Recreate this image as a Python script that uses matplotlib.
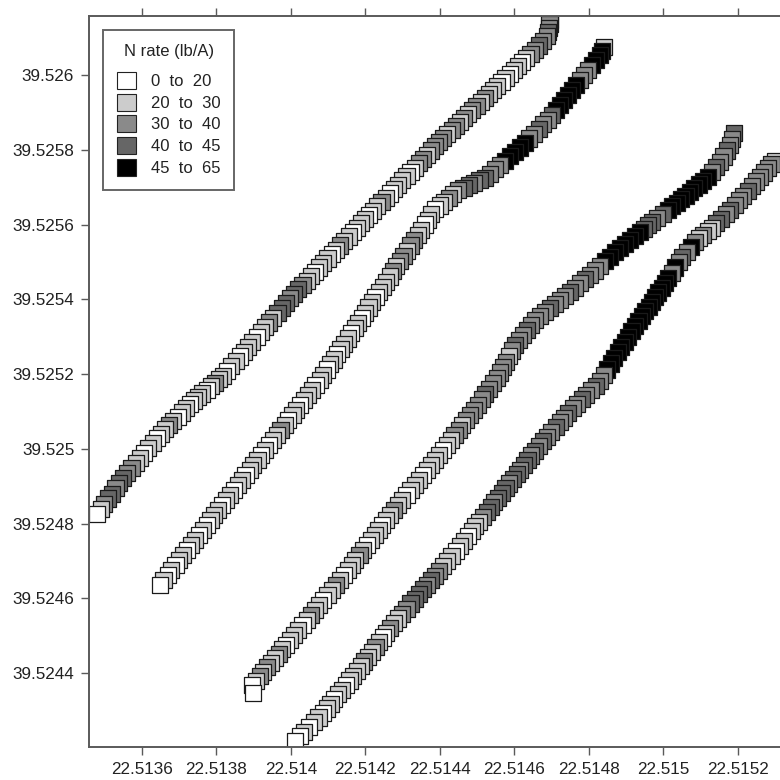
import matplotlib
matplotlib.use('Agg')
import matplotlib.pyplot as plt
from matplotlib.patches import Patch
import numpy as np

plt.rcParams['font.family'] = ['Liberation Sans', 'DejaVu Sans']

# coordinates are stored as micro-degree offsets from these bases
LON0 = 22.513
LAT0 = 39.524

# N rate classes (legend) and their grey shades
rate_labels = ["0  to  20", "20  to  30", "30  to  40", "40  to  45", "45  to  65"]
rate_colors = ['#ffffff', '#cccccc', '#8a8a8a', '#666666', '#000000']

# pass 1 (leftmost)
t1_lon = [479, 489, 499, 509, 519, 529, 539, 549, 560, 572,
          583, 595, 606, 617, 629, 640, 651, 662, 673, 684,
          696, 707, 718, 729, 740, 751, 762, 774, 785, 796,
          807, 818, 829, 840, 852, 863, 874, 885, 896, 908,
          919, 930, 941, 952, 964, 975, 986, 997, 1008, 1020,
          1031, 1042, 1053, 1065, 1076, 1087, 1098, 1110, 1121, 1132,
          1143, 1155, 1166, 1177, 1188, 1199, 1210, 1221, 1232, 1243,
          1254, 1265, 1276, 1288, 1299, 1310, 1321, 1332, 1343, 1354,
          1365, 1376, 1387, 1398, 1409, 1420, 1432, 1443, 1454, 1465,
          1476, 1487, 1498, 1509, 1521, 1532, 1543, 1554, 1565, 1576,
          1588, 1599, 1610, 1621, 1632, 1643, 1655, 1666, 1677, 1687,
          1691, 1693, 1694, 1695]
t1_lat = [825, 839, 853, 867, 880, 894, 908, 922, 935, 949,
          962, 975, 989, 1002, 1016, 1029, 1040, 1052, 1063, 1075,
          1086, 1097, 1109, 1120, 1129, 1139, 1148, 1158, 1167, 1176,
          1186, 1195, 1208, 1221, 1234, 1247, 1260, 1273, 1286, 1299,
          1312, 1325, 1338, 1351, 1364, 1377, 1390, 1403, 1415, 1427,
          1438, 1450, 1462, 1474, 1485, 1497, 1509, 1520, 1532, 1544,
          1556, 1568, 1579, 1591, 1603, 1614, 1626, 1637, 1649, 1660,
          1672, 1683, 1695, 1706, 1718, 1729, 1741, 1752, 1764, 1775,
          1787, 1798, 1810, 1821, 1831, 1842, 1853, 1863, 1874, 1885,
          1895, 1906, 1917, 1927, 1938, 1949, 1959, 1970, 1981, 1991,
          2002, 2013, 2024, 2034, 2045, 2056, 2067, 2079, 2092, 2104,
          2115, 2126, 2137, 2147]
t1_rate = ("0 12 33233221 1011011210 1101110121 1011011101 121 3332332 "
           "1101110121 1011101121 0111101221 22 22122121221211 10101101 223223222")

# pass 2
t2_lon = [648,
          658, 669, 679, 690, 700, 711, 721, 732, 742, 753,
          763, 774, 784, 794, 805, 815, 826, 836, 847, 858,
          868, 878, 889, 899, 910, 920, 930, 941, 951, 962,
          972, 983, 993, 1004, 1014, 1025, 1035, 1045, 1056, 1066, 1077,
          1086, 1096, 1105, 1115, 1124, 1133, 1143, 1152, 1162, 1171,
          1180, 1190, 1199, 1208, 1218, 1227, 1237, 1246, 1255, 1265,
          1274, 1283, 1293, 1302, 1312, 1321, 1330, 1340, 1349, 1359,
          1368, 1377, 1387,
          1399, 1411, 1424, 1436, 1448,
          1463, 1477, 1492, 1506, 1521,
          1534, 1548, 1561, 1575, 1588, 1601, 1615, 1628,
          1640, 1652, 1665, 1677, 1689, 1701,
          1712, 1722, 1733, 1744, 1755, 1765, 1776,
          1787, 1798, 1808, 1819, 1830,
          1835, 1840]
t2_lat = [635,
          648, 662, 675, 689, 702, 715, 729, 742, 756, 769,
          782, 796, 809, 822, 836, 849, 863, 876, 889, 903,
          916, 929, 943, 956, 970, 983, 997, 1010, 1023, 1037,
          1050, 1063, 1077, 1090, 1103, 1117, 1130, 1144, 1157, 1170, 1184,
          1198, 1212, 1226, 1239, 1253, 1267, 1281, 1295, 1309, 1323,
          1336, 1350, 1364, 1378, 1392, 1406, 1419, 1433, 1447, 1461,
          1475, 1489, 1503, 1516, 1530, 1544, 1558, 1572, 1586, 1600,
          1613, 1627, 1641,
          1651, 1661, 1672, 1682, 1692,
          1698, 1705, 1711, 1718, 1724,
          1736, 1748, 1759, 1771, 1783, 1795, 1806, 1818,
          1830, 1843, 1855, 1868, 1880, 1893,
          1906, 1920, 1933, 1947, 1960, 1974, 1987,
          2000, 2014, 2027, 2041, 2054,
          2065, 2075]
t2_rate = ("0 1010110110 1011101101 1011101011 2101101110 1 "
           "1011011101 1011101111 2122122110 110 "
           "11212 33233 222 44444 223223 444444 222 4444 1")

# pass 3
t3_lon = [898, 895, 906,
          916, 926, 936, 946, 957, 967, 977, 987, 997,
          1008, 1019, 1031, 1042, 1053, 1064, 1076, 1087, 1098, 1110, 1121, 1132,
          1142, 1153, 1163, 1173, 1184, 1194, 1204, 1214, 1225, 1235, 1245, 1256, 1266,
          1277, 1288, 1299, 1310, 1321, 1332, 1343, 1354, 1365, 1376, 1387,
          1397, 1408, 1418, 1429, 1439, 1450, 1460, 1471, 1481,
          1491, 1502, 1512, 1522, 1532, 1543, 1553,
          1561, 1569, 1577, 1585, 1593, 1601,
          1612, 1623, 1633, 1644, 1655,
          1668, 1682, 1695, 1709, 1722,
          1736, 1749, 1763, 1776, 1790, 1803,
          1816, 1830, 1843, 1857, 1870,
          1883, 1897, 1910, 1924, 1937,
          1948, 1958, 1969,
          1983, 1998, 2012,
          2024, 2036, 2047, 2059, 2071,
          2083, 2095, 2107, 2119,
          2130, 2141, 2152,
          2161, 2170, 2179,
          2184, 2189]
t3_lat = [346, 368, 379,
          391, 403, 415, 427, 440, 452, 464, 476, 488,
          501, 515, 528, 542, 555, 568, 582, 595, 609, 622, 635, 649,
          662, 676, 689, 703, 716, 729, 743, 756, 770, 783, 796, 810, 823,
          836, 850, 863, 877, 890, 903, 917, 930, 943, 957, 970,
          983, 997, 1010, 1023, 1037, 1050, 1063, 1077, 1090,
          1104, 1118, 1132, 1146, 1161, 1175, 1189,
          1204, 1219, 1233, 1248, 1263, 1278,
          1291, 1304, 1318, 1331, 1344,
          1355, 1366, 1376, 1387, 1398,
          1409, 1420, 1431, 1443, 1454, 1465,
          1477, 1489, 1502, 1514, 1526,
          1537, 1548, 1558, 1569, 1580,
          1589, 1598, 1607,
          1618, 1628, 1639,
          1649, 1658, 1668, 1677, 1687,
          1697, 1707, 1717, 1727,
          1740, 1754, 1767,
          1782, 1798, 1813,
          1829, 1845]
t3_rate = ("001 212112101 1101211011 2101112101 1101121101 110111 "
           "101122122 2223222 22212322322 223222322322 2 44444444 "
           "33323 4444444444 23223223")

# pass 4 (rightmost)
t4_lon = [1011,
          1024, 1036, 1048, 1061, 1074, 1086,
          1096, 1106, 1116, 1126, 1137, 1147, 1157, 1167, 1177,
          1187, 1197, 1207, 1217, 1227, 1236, 1246, 1256, 1266,
          1277, 1288, 1299, 1310, 1321, 1332, 1343, 1354,
          1365, 1376, 1387,
          1398, 1409, 1420, 1431, 1442, 1453, 1464, 1475,
          1485, 1495, 1505, 1515, 1526, 1536, 1546, 1556, 1566,
          1576, 1586, 1596, 1606, 1616, 1625, 1635, 1645, 1655,
          1666, 1677, 1688, 1699, 1711, 1722, 1733, 1744,
          1756, 1769, 1781, 1793, 1806, 1818, 1830,
          1840, 1849, 1859, 1868, 1878,
          1887, 1896, 1905, 1914, 1924, 1933, 1942,
          1951, 1960, 1969, 1978, 1986, 1995, 2004,
          2013, 2022, 2032, 2041, 2050,
          2062, 2073, 2085,
          2096, 2107, 2119, 2130,
          2142, 2154, 2167, 2179,
          2191, 2203, 2214, 2226, 2238,
          2249, 2260, 2270, 2281,
          2290, 2299]
t4_lat = [218,
          231, 243, 256, 268, 281, 293,
          305, 318, 330, 343, 355, 367, 380, 392, 405,
          418, 431, 443, 456, 469, 482, 495, 507, 520,
          533, 546, 559, 572, 586, 599, 612, 625,
          636, 648, 659,
          673, 686, 700, 713, 727, 740, 754, 767,
          780, 793, 805, 818, 831, 844, 857, 869, 882,
          894, 907, 919, 932, 944, 957, 969, 982, 994,
          1007, 1020, 1032, 1045, 1058, 1071, 1083, 1096,
          1108, 1120, 1132, 1144, 1157, 1169, 1181,
          1197, 1212, 1228, 1243, 1259,
          1273, 1286, 1300, 1314, 1328, 1341, 1355,
          1368, 1380, 1393, 1405, 1418, 1431, 1443,
          1457, 1471, 1485, 1499, 1513,
          1526, 1540, 1553,
          1563, 1572, 1582, 1591,
          1603, 1615, 1627, 1639,
          1652, 1665, 1677, 1690, 1703,
          1715, 1727, 1739, 1751,
          1761, 1770]
t4_rate = ("0 010110110110111 1211210121122 333323 2211 101101112 "
           "33233323323323 232232232232232 2 4444444444444444444 "
           "2423242 1211 3323 222322222 21")

xticks = [22.5136, 22.5138, 22.514, 22.5142, 22.5144, 22.5146, 22.5148, 22.515, 22.5152]
yticks = [39.5244, 39.5246, 39.5248, 39.525, 39.5252, 39.5254, 39.5256, 39.5258, 39.526]

fig = plt.figure(figsize=(7.8, 7.8), dpi=100)
ax = fig.add_axes([0.1147, 0.0429, 0.8853, 0.9366])

tracks = [(t1_lon, t1_lat, t1_rate), (t2_lon, t2_lat, t2_rate),
          (t3_lon, t3_lat, t3_rate), (t4_lon, t4_lat, t4_rate)]
for lon_u, lat_u, rate in tracks:
    lon = LON0 + np.array(lon_u) * 1e-6
    lat = LAT0 + np.array(lat_u) * 1e-6
    cls = [int(ch) for ch in rate.replace(' ', '')]
    cols = [rate_colors[k] for k in cls]
    # later points go underneath, so the lower-left squares end up on top
    ax.scatter(lon[::-1], lat[::-1], c=cols[::-1], marker='s', s=135,
               edgecolors='#1a1a1a', linewidths=0.9, zorder=2)

ax.set_xlim(22.5134591, 22.5153128)
ax.set_ylim(39.5242033, 39.5261579)
ax.set_xticks(xticks)
ax.set_xticklabels(['{:g}'.format(v) for v in xticks])
ax.set_yticks(yticks)
ax.set_yticklabels(['{:g}'.format(v) for v in yticks])

ax.spines['right'].set_visible(False)
for side in ['left', 'bottom', 'top']:
    ax.spines[side].set_color('#5a5a5a')
    ax.spines[side].set_linewidth(1.4)
ax.tick_params(direction='out', length=6, width=1, color='#5a5a5a', pad=5,
               labelsize=12.3, labelcolor='#222222', top=True, labeltop=False, right=False)

handles = [Patch(facecolor=c, edgecolor='#222222', linewidth=0.8) for c in rate_colors]
# trailing newline with tight line spacing leaves a small gap under the title
leg = ax.legend(handles, rate_labels, title='N rate (lb/A)\n', loc='upper left',
                bbox_to_anchor=(0.0196, 0.981), borderaxespad=0, fancybox=False,
                framealpha=1, edgecolor='#666666', fontsize=12, title_fontsize=12,
                handlelength=1.15, handleheight=1.2, labelspacing=0.27,
                handletextpad=0.85, borderpad=0.85)
leg.get_title().set_linespacing(0.45)
leg.get_frame().set_linewidth(1.4)
for t in leg.get_texts():
    t.set_color('#222222')
leg.get_title().set_color('#222222')

fig.savefig('out.png', dpi=100)
